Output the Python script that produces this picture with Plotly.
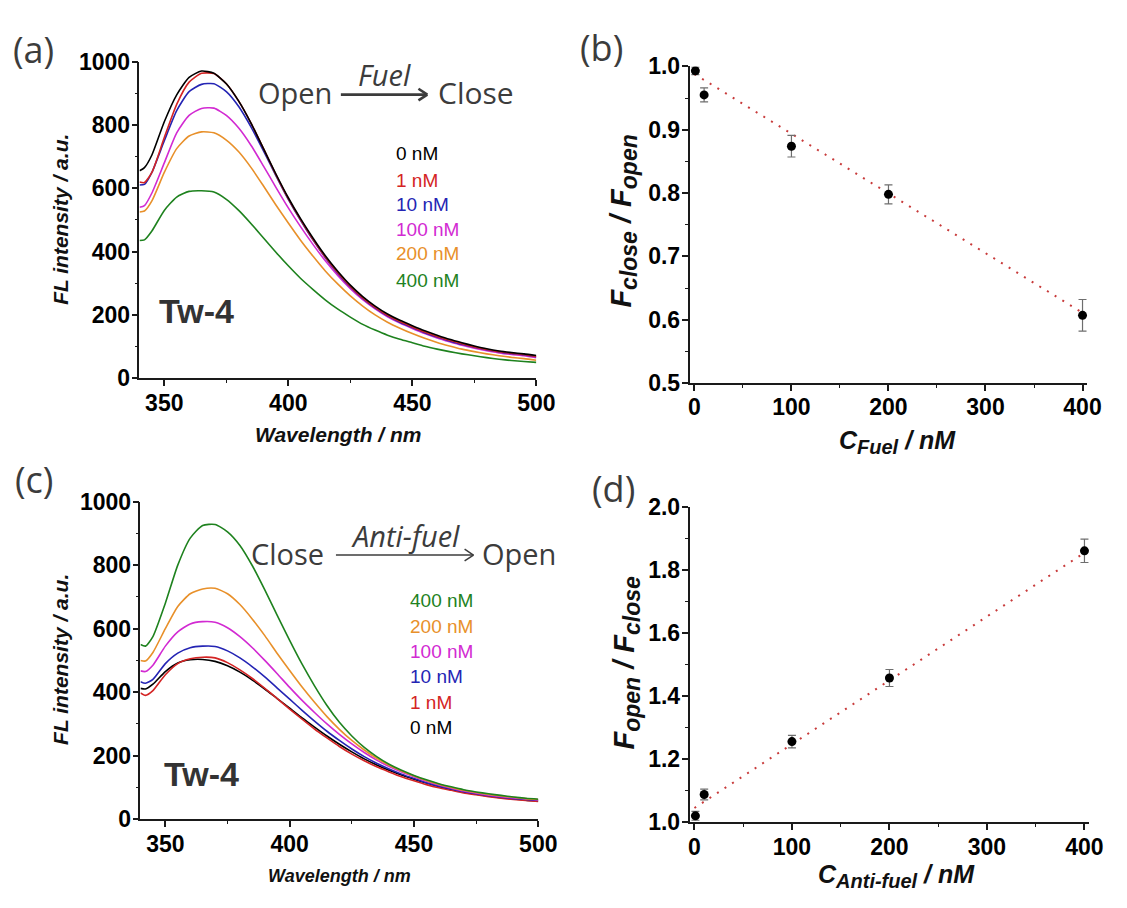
import plotly.graph_objects as go

W, H = 1127, 908

# ---------------- data ----------------
wl = [340, 342, 345, 350, 355, 360, 365, 370, 375, 380, 385, 390, 395, 400, 405, 410,
      415, 420, 425, 430, 435, 440, 445, 450, 455, 460, 465, 470, 475, 480, 485, 490, 495, 500]

conc_labels = ["0 nM", "1 nM", "10 nM", "100 nM", "200 nM", "400 nM"]
colors = ["#000000", "#d42424", "#2424b4", "#d22ad2", "#e8902a", "#1e821e"]

# panel (a): Open -> Close with Fuel
a_0 = [655, 665, 705, 810, 895, 950, 970, 963, 930, 875, 805, 725, 645, 570, 503, 442,
       386, 337, 294, 258, 228, 203, 183, 166, 150, 136, 123, 112, 102, 93, 86, 81, 77, 72]
a_1 = [620, 618, 650, 760, 865, 935, 963, 962, 930, 875, 805, 725, 643, 567, 500, 438,
       382, 333, 290, 254, 224, 199, 179, 162, 146, 132, 120, 109, 99, 91, 84, 79, 75, 69]
a_10 = [610, 612, 650, 750, 845, 905, 928, 930, 905, 858, 793, 718, 640, 565, 498, 436,
        380, 331, 288, 252, 222, 197, 177, 160, 144, 130, 118, 107, 98, 90, 83, 78, 74, 68]
a_100 = [540, 545, 585, 680, 775, 830, 852, 853, 830, 790, 735, 670, 603, 538, 478, 422,
         370, 324, 283, 248, 219, 194, 174, 157, 141, 127, 115, 104, 95, 87, 80, 75, 71, 65]
a_200 = [525, 528, 560, 650, 725, 765, 778, 775, 752, 715, 665, 607, 547, 490, 435, 385,
         338, 297, 260, 228, 200, 177, 158, 141, 126, 113, 102, 92, 84, 77, 71, 66, 62, 57]
a_400 = [435, 437, 465, 530, 572, 590, 592, 588, 565, 530, 488, 443, 398, 355, 315, 280,
         247, 218, 193, 170, 152, 136, 123, 112, 101, 92, 84, 77, 71, 65, 60, 56, 53, 50]

# panel (c): Close -> Open with Anti-fuel
c_0 = [412, 410, 425, 465, 492, 502, 503, 497, 483, 463, 438, 410, 380, 350, 319, 290,
       262, 236, 212, 190, 171, 154, 139, 126, 114, 103, 94, 86, 79, 73, 68, 64, 60, 57]
c_1 = [398, 390, 405, 455, 490, 505, 510, 508, 493, 470, 443, 412, 380, 347, 315, 284,
       256, 229, 205, 184, 165, 149, 134, 121, 109, 99, 91, 83, 77, 71, 66, 62, 59, 56]
c_10 = [433, 428, 440, 490, 523, 540, 545, 544, 530, 508, 480, 448, 413, 378, 343, 309,
        277, 248, 221, 197, 176, 158, 142, 128, 115, 104, 95, 87, 80, 74, 69, 65, 62, 59]
c_100 = [467, 465, 485, 545, 590, 615, 622, 620, 603, 575, 540, 500, 458, 415, 374, 336,
         300, 267, 237, 210, 186, 166, 149, 134, 120, 108, 98, 89, 82, 76, 71, 67, 64, 61]
c_200 = [500, 498, 525, 600, 670, 710, 725, 727, 710, 676, 630, 578, 522, 468, 416, 368,
         323, 283, 248, 218, 192, 170, 152, 136, 122, 110, 100, 91, 84, 78, 73, 69, 65, 62]
c_400 = [550, 545, 575, 680, 800, 885, 925, 928, 905, 862, 798, 722, 642, 563, 488, 420,
         358, 305, 262, 226, 197, 173, 154, 138, 124, 112, 102, 93, 86, 80, 75, 70, 66, 63]

# panel (b)
b_conc = [1, 10, 100, 200, 400]
b_ratio = [0.993, 0.955, 0.874, 0.798, 0.607]
b_err = [0.006, 0.011, 0.017, 0.015, 0.025]
b_fit_x = [0, 400]
b_fit_y = [0.988, 0.611]

# panel (d)
d_conc = [1, 10, 100, 200, 400]
d_ratio = [1.020, 1.088, 1.256, 1.458, 1.862]
d_err = [0.014, 0.017, 0.020, 0.027, 0.037]
d_fit_x = [0, 400]
d_fit_y = [1.045, 1.856]

# tick labels
wl_ticks = [350, 400, 450, 500]
fl_ticks = [0, 200, 400, 600, 800, 1000]
conc_ticks = [0, 100, 200, 300, 400]
b_yticks = [0.5, 0.6, 0.7, 0.8, 0.9, 1.0]
d_yticks = [1.0, 1.2, 1.4, 1.6, 1.8, 2.0]

# ---------------- helpers ----------------
def px(x):
    return x / W

def py(y):
    return 1 - y / H

TICKFONT = dict(family="Liberation Sans, Arial", size=23, color="black", weight="bold")
AXCOL = "#1a1a1a"

fig = go.Figure()

a_series = [a_0, a_1, a_10, a_100, a_200, a_400]
c_series = [c_0, c_1, c_10, c_100, c_200, c_400]

for i in [5, 4, 3, 2, 1, 0]:
    fig.add_trace(go.Scatter(x=wl, y=a_series[i], mode="lines", name=conc_labels[i],
                             line=dict(color=colors[i], width=1.6, shape="spline", smoothing=0.6),
                             xaxis="x", yaxis="y", showlegend=False))
for i in [0, 1, 2, 3, 4, 5]:
    fig.add_trace(go.Scatter(x=wl, y=c_series[i], mode="lines", name=conc_labels[i],
                             line=dict(color=colors[i], width=1.6, shape="spline", smoothing=0.6),
                             xaxis="x3", yaxis="y3", showlegend=False))

fig.add_trace(go.Scatter(x=b_fit_x, y=b_fit_y, mode="lines",
                         line=dict(color="#c83a3a", width=2, dash="2px,7px"),
                         xaxis="x2", yaxis="y2", showlegend=False))
fig.add_trace(go.Scatter(x=b_conc, y=b_ratio, mode="markers",
                         marker=dict(color="black", size=9),
                         error_y=dict(type="data", array=b_err, color="#6e6e6e", thickness=1.2, width=4),
                         xaxis="x2", yaxis="y2", showlegend=False))
fig.add_trace(go.Scatter(x=d_fit_x, y=d_fit_y, mode="lines",
                         line=dict(color="#c83a3a", width=2, dash="2px,7px"),
                         xaxis="x4", yaxis="y4", showlegend=False))
fig.add_trace(go.Scatter(x=d_conc, y=d_ratio, mode="markers",
                         marker=dict(color="black", size=9),
                         error_y=dict(type="data", array=d_err, color="#6e6e6e", thickness=1.2, width=4),
                         xaxis="x4", yaxis="y4", showlegend=False))

def axis(domain, rng, ticks, fmt, minor_dtick, minor_tick0, anchor):
    return dict(domain=domain, range=rng, anchor=anchor,
                tickmode="array", tickvals=ticks,
                ticktext=["<b>" + format(t, fmt) + "</b>" for t in ticks],
                showline=True, linecolor=AXCOL, linewidth=1.6, mirror=False,
                ticks="outside", ticklen=6, tickwidth=1.6, tickcolor=AXCOL,
                ticklabelstandoff=-3,
                showgrid=False, zeroline=False, tickfont=TICKFONT,
                minor=dict(dtick=minor_dtick, tick0=minor_tick0, ticks="outside", ticklen=3,
                           tickwidth=1.4, tickcolor=AXCOL, showgrid=False))

fig.update_layout(
    width=W, height=H, autosize=False,
    margin=dict(l=0, r=0, t=0, b=0),
    paper_bgcolor="white", plot_bgcolor="white",
    xaxis=axis([px(141), px(545)], [340, 500], wl_ticks, "d", 25, 350, "y"),
    yaxis=axis([py(376), py(50)], [0, 1000], fl_ticks, "d", 100, 0, "x"),
    xaxis2=axis([px(701), px(1106)], [-5, 405], conc_ticks, "d", 50, 0, "y2"),
    yaxis2=axis([py(381), py(55)], [0.5, 1.0], b_yticks, ".1f", 0.05, 0.5, "x2"),
    xaxis3=axis([px(142), px(547)], [340, 500], wl_ticks, "d", 25, 350, "y3"),
    yaxis3=axis([py(830), py(503)], [0, 1000], fl_ticks, "d", 100, 0, "x3"),
    xaxis4=axis([px(701), px(1108)], [-5, 405], conc_ticks, "d", 50, 0, "y4"),
    yaxis4=axis([py(833), py(509)], [1.0, 2.0], d_yticks, ".1f", 0.1, 1.0, "x4"),
)

ann = []

def text(x, y, s, size, color="#222", family="Liberation Sans, Arial", angle=0, xanchor="center"):
    ann.append(dict(x=px(x), y=py(y), xref="paper", yref="paper", text=s, showarrow=False,
                    xanchor=xanchor, yanchor="middle", textangle=angle,
                    font=dict(family=family, size=size, color=color)))

LABF = "Open Sans, Arial"
# panel letters
text(33, 38, "(a)", 36, "#3c3c3c", LABF)
text(611, 36, "(b)", 36, "#3c3c3c", LABF)
text(34, 480, "(c)", 36, "#3c3c3c", LABF)
text(624, 490, "(d)", 36, "#3c3c3c", LABF)

# axis titles
text(61, 212, "<b><i>FL intensity / a.u.</i></b>", 21, "#111", angle=-90)
text(61, 665, "<b><i>FL intensity / a.u.</i></b>", 21, "#111", angle=-90)
text(343, 434, "<b><i>Wavelength / nm</i></b>", 21, "#111")
text(345, 888, "<b><i>Wavelength / nm</i></b>", 18, "#111")
SUBS = "font-size:23px"
text(634, 214, "<b><i>F<sub><span style='%s'>close</span></sub> / F<sub><span style='%s'>open</span></sub></i></b>" % (SUBS, SUBS), 29, "#111", angle=-90)
text(637, 669, "<b><i>F<sub><span style='%s'>open</span></sub> / F<sub><span style='%s'>close</span></sub></i></b>" % (SUBS, SUBS), 29, "#111", angle=-90)
text(913, 442, "<b><i>C<sub><span style='font-size:20px'>Fuel</span></sub> / nM</i></b>", 25, "#111")
text(912, 888, "<b><i>C<sub><span style='font-size:20px'>Anti-fuel</span></sub> / nM</i></b>", 25, "#111")

# Tw-4 labels
text(199, 307, "<b>Tw-4</b>", 34, "#333")
text(204, 783, "<b>Tw-4</b>", 34, "#333")

# reaction schemes
text(299, 82, "Open", 29, "#3c3c3c", LABF)
text(390, 63, "<i>Fuel</i>", 29, "#3c3c3c", LABF)
text(484, 82, "Close", 30, "#3c3c3c", LABF)
text(292, 556, "Close", 29, "#3c3c3c", LABF)
text(412, 538, "<i>Anti-fuel</i>", 29, "#3c3c3c", LABF)
text(527, 556, "Open", 29, "#3c3c3c", LABF)

# legends as coloured text
a_leg_y = [145, 172, 197, 223, 248, 275]
for i in range(6):
    text(400, a_leg_y[i], conc_labels[i], 19, colors[i], xanchor="left")
c_order = [5, 4, 3, 2, 1, 0]
c_leg_y = [605, 632, 657, 683, 710, 736]
for k, i in enumerate(c_order):
    text(414, c_leg_y[k], conc_labels[i], 19, colors[i], xanchor="left")

fig.update_layout(annotations=ann)

# arrows drawn as shapes
def arrow(x0, x1, y, w):
    return [
        dict(type="line", xref="paper", yref="paper", x0=px(x0), x1=px(x1), y0=py(y), y1=py(y),
             line=dict(color="#3c3c3c", width=w)),
        dict(type="line", xref="paper", yref="paper", x0=px(x1 - 9), x1=px(x1), y0=py(y - 6), y1=py(y),
             line=dict(color="#3c3c3c", width=w)),
        dict(type="line", xref="paper", yref="paper", x0=px(x1 - 9), x1=px(x1), y0=py(y + 6), y1=py(y),
             line=dict(color="#3c3c3c", width=w)),
    ]

fig.update_layout(shapes=arrow(346, 434, 84, 2.6) + arrow(341, 481, 558, 1.5))

fig.write_html("out.html")
